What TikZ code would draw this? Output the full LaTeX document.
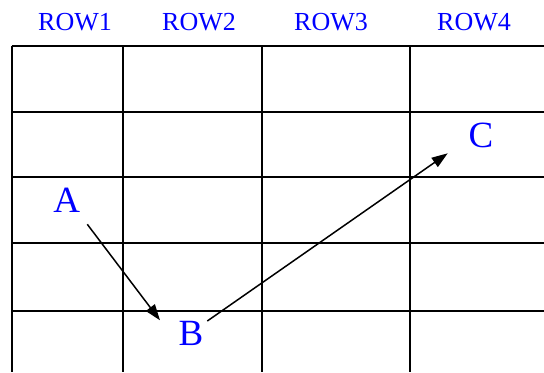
\documentclass[tikz,border=0pt]{standalone}
\usepackage{fontspec}
\setmainfont{Liberation Serif}
\usetikzlibrary{arrows.meta,positioning}
\definecolor{Label}{HTML}{0000FF}
\tikzset{
 gridline/.style={black,line width=2bp},
 head/.style={font=\rmfamily\fontsize{26bp}{30bp}\selectfont,text=Label,inner sep=0pt},
 point/.style={font=\rmfamily\fontsize{37bp}{42bp}\selectfont,text=Label,inner sep=0pt},
 arr/.style={-{Triangle[length=16bp,width=11bp]},line width=1.5bp,black}
}
\begin{document}
\begin{tikzpicture}[x=1bp,y=-1bp]
\useasboundingbox[fill=white] (0,0) rectangle (544,372);
% grid
\foreach \x in {11.7,122.7,261.7,409.7} {
 \draw[gridline] (\x,45.7)--(\x,372);
}
\foreach \y in {45.7,111.7,176.7,243.3,311} {
 \draw[gridline] (11.7,\y)--(544,\y);
}
% column heads
\foreach \x/\name in {75/ROW1,199/ROW2,331/ROW3,474/ROW4} {
 \node[head] (\name) at (\x,22) {\name};
}
% points
\node[point] (A) at (66.7,200) {A};
\node[point] (B) at (191,333.5) {B};
\node[point] (C) at (481,135) {C};
\draw[arr] ([shift={(20.6,24.3)}]A.center) -- ([shift={(-31,-13.2)}]B.center);
\draw[arr] ([shift={(16.3,-12.5)}]B.center) -- ([shift={(-33.3,18.3)}]C.center);
\end{tikzpicture}
\end{document}
